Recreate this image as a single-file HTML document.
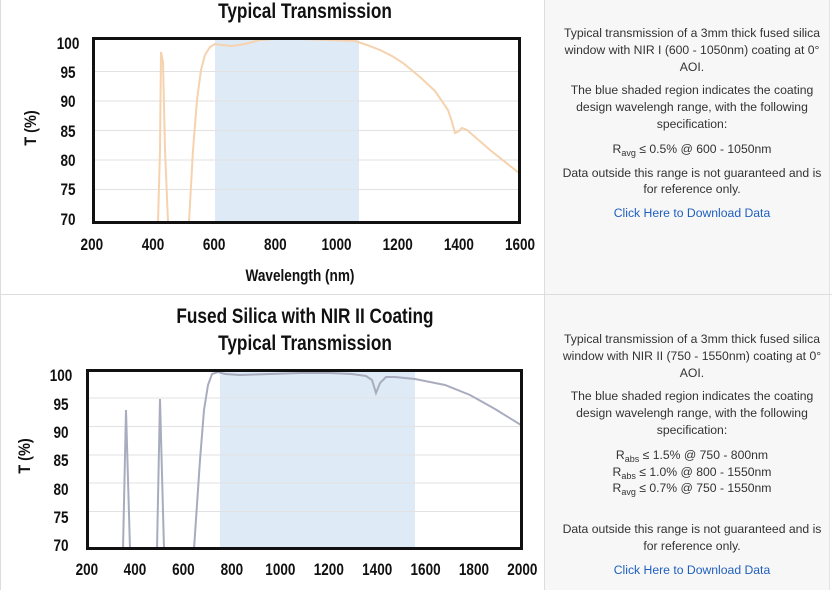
<!DOCTYPE html>
<html><head><meta charset="utf-8"><style>
body{margin:0;width:832px;height:590px;background:#fff;position:relative;overflow:hidden;font-family:"Liberation Sans",sans-serif}
.r{position:absolute;left:545px;width:284px;background:#f7f7f7}
.t{position:absolute;left:560px;width:264px;text-align:center;font-size:12.2px;color:#333;line-height:16.8px}
.t p{margin:0}
.lk{color:#1f5fbf}
sub{font-size:9px;vertical-align:-3px;line-height:0}
</style></head><body>
<div class="r" style="top:0;height:294px"></div>
<div class="r" style="top:295px;height:295px"></div>
<div style="position:absolute;left:0;top:294px;width:832px;height:1px;background:#ddd"></div>
<div style="position:absolute;left:0;top:0;width:1px;height:590px;background:#ddd"></div>
<div style="position:absolute;left:544px;top:0;width:1px;height:590px;background:#ddd"></div>
<div style="position:absolute;left:829px;top:0;width:1px;height:590px;background:#e4e4e4"></div>

<div class="t" style="top:25px">
<p>Typical transmission of a 3mm thick fused silica window with NIR I (600 - 1050nm) coating at 0° AOI.</p>
<p style="margin-top:7px">The blue shaded region indicates the coating design wavelengh range, with the following specification:</p>
<p style="margin-top:8px">R<sub>avg</sub> ≤ 0.5% @ 600 - 1050nm</p>
<p style="margin-top:7px">Data outside this range is not guaranteed and is for reference only.</p>
<p style="margin-top:7px" class="lk">Click Here to Download Data</p>
</div>
<div class="t" style="top:331px">
<p>Typical transmission of a 3mm thick fused silica window with NIR II (750 - 1550nm) coating at 0° AOI.</p>
<p style="margin-top:7px">The blue shaded region indicates the coating design wavelengh range, with the following specification:</p>
<p style="margin-top:8px">R<sub>abs</sub> ≤ 1.5% @ 750 - 800nm<br>R<sub>abs</sub> ≤ 1.0% @ 800 - 1550nm<br>R<sub>avg</sub> ≤ 0.7% @ 750 - 1550nm</p>
<p style="margin-top:24px">Data outside this range is not guaranteed and is for reference only.</p>
<p style="margin-top:7px" class="lk">Click Here to Download Data</p>
</div>

<svg width="545" height="590" style="position:absolute;left:0;top:0" font-family="Liberation Sans, sans-serif" font-weight="bold">
<g fill="#111" text-anchor="middle">
<text x="305" y="18" font-size="21" transform="translate(305 0) scale(0.82 1) translate(-305 0)">Typical Transmission</text>
<text x="305" y="323" font-size="21" transform="translate(305 0) scale(0.82 1) translate(-305 0)">Fused Silica with NIR II Coating</text>
<text x="305" y="350" font-size="21" transform="translate(305 0) scale(0.82 1) translate(-305 0)">Typical Transmission</text>
<text x="300" y="281" font-size="17" transform="translate(300 0) scale(0.8 1) translate(-300 0)">Wavelength (nm)</text>
<text transform="translate(36 128) rotate(-90) scale(0.85 1)" font-size="17">T (%)</text>
<text transform="translate(30 456) rotate(-90) scale(0.85 1)" font-size="17">T (%)</text>
</g>
<!-- chart 1 -->
<rect x="215" y="38" width="144" height="183" fill="#deeaf5"/>
<g stroke="#e2e2e2" stroke-width="1">
<line x1="92" x2="520" y1="71.5" y2="71.5"/><line x1="92" x2="520" y1="101" y2="101"/><line x1="92" x2="520" y1="130.5" y2="130.5"/><line x1="92" x2="520" y1="160" y2="160"/><line x1="92" x2="520" y1="189.5" y2="189.5"/>
</g>
<polyline fill="none" stroke="#f6d2ae" stroke-width="2" points="158,222 160,150 161,52 163,62 165,150 168,222"/>
<polyline fill="none" stroke="#f6d2ae" stroke-width="2" points="189,222 193,150 197,100 201,70 205,55 210,47 215,44 222,45 232,46 245,44 260,40 275,39 300,39 330,40 355,41 367,45 380,50 392,56 403,63 420,77 435,91 448,110 452,122 455,133 459,131 462,128 467,130 490,150 519,173"/>
<g fill="#111" text-anchor="middle" font-size="16.5">
<g transform="scale(0.82 1)">
<text x="83" y="49">100</text><text x="83" y="78">95</text><text x="83" y="107">90</text><text x="83" y="137">85</text><text x="83" y="166">80</text><text x="83" y="195">75</text><text x="83" y="225">70</text>
<text x="112" y="250">200</text><text x="186.6" y="250">400</text><text x="261.2" y="250">600</text><text x="335.8" y="250">800</text><text x="410.4" y="250">1000</text><text x="485" y="250">1200</text><text x="559.6" y="250">1400</text><text x="634.2" y="250">1600</text>
</g></g>
<rect x="93.5" y="38.5" width="426" height="184" fill="none" stroke="#111" stroke-width="3"/>
<!-- chart 2 -->
<rect x="220" y="370" width="195" height="178" fill="#deeaf5"/>
<g stroke="#e2e2e2" stroke-width="1">
<line x1="86" x2="522" y1="398" y2="398"/><line x1="86" x2="522" y1="426.5" y2="426.5"/><line x1="86" x2="522" y1="455" y2="455"/><line x1="86" x2="522" y1="483" y2="483"/><line x1="86" x2="522" y1="511.5" y2="511.5"/>
</g>
<g fill="none" stroke="#a8acbe" stroke-width="2">
<polyline points="123,549 126,410 130,549"/>
<polyline points="157,549 160,399 164,549"/>
<polyline points="194,549 200,460 204,410 208,385 212,374 218,372 225,374 240,375 270,374 300,373 330,373 352,374 366,376 372,380 376,393 380,383 386,377 395,377 415,379 445,385 470,395 495,409 521,425"/>
</g>
<g fill="#111" text-anchor="middle" font-size="16.5">
<g transform="scale(0.82 1)">
<text x="74.4" y="381">100</text><text x="74.4" y="410">95</text><text x="74.4" y="438">90</text><text x="74.4" y="466">85</text><text x="74.4" y="495">80</text><text x="74.4" y="523">75</text><text x="74.4" y="551">70</text>
<text x="106" y="575">200</text><text x="164.6" y="575">400</text><text x="223.7" y="575">600</text><text x="282.8" y="575">800</text><text x="341.9" y="575">1000</text><text x="401" y="575">1200</text><text x="460" y="575">1400</text><text x="519" y="575">1600</text><text x="578" y="575">1800</text><text x="637" y="575">2000</text>
</g></g>
<rect x="87.5" y="370.5" width="434" height="178" fill="none" stroke="#111" stroke-width="3"/>
</svg>
</body></html>
